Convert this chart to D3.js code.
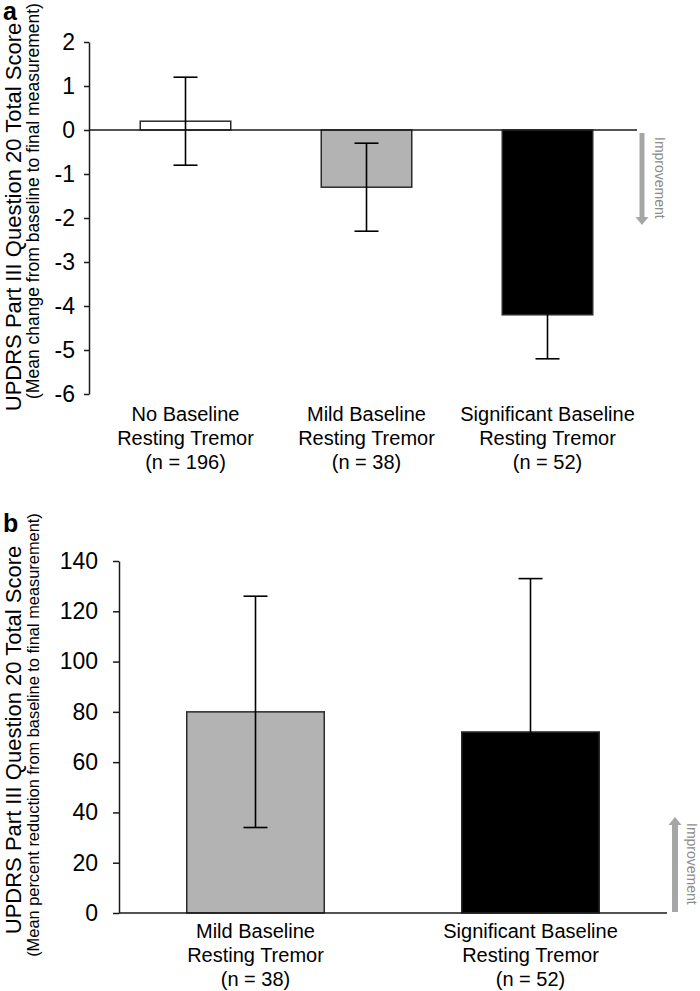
<!DOCTYPE HTML>
<html>
  <head>
    <meta charset="utf-8">
    <style>
	body { margin: 0; background: #fff; }
	svg text { font-family: "Liberation Sans", Arial, sans-serif; fill: #000; }
	</style>
  </head>
  <body>

	<script type="text/javascript" src="https://cdn.jsdelivr.net/npm/d3@7/dist/d3.min.js"></script>

    <script>

		// *** DATA ***

		// Panel a: mean change from baseline
		var catsA = ['No Baseline|Resting Tremor|(n = 196)', 'Mild Baseline|Resting Tremor|(n = 38)', 'Significant Baseline|Resting Tremor|(n = 52)'];
		var meanA = [0.2, -1.3, -4.2];
		var errA = [1.0, 1.0, 1.0];
		var ticksA = [-6, -5, -4, -3, -2, -1, 0, 1, 2];

		// Panel b: mean percent reduction
		var catsB = ['Mild Baseline|Resting Tremor|(n = 38)', 'Significant Baseline|Resting Tremor|(n = 52)'];
		var meanB = [80, 72];
		var errB = [46, 61];
		var ticksB = [0, 20, 40, 60, 80, 100, 120, 140];

		var fillsA = ['#ffffff', '#b3b3b3', '#000000'];
		var fillsB = ['#b3b3b3', '#000000'];

		var svg = d3.select("body").append("svg")
			.attr("width", 700)
			.attr("height", 991);

		// *** FUNCTIONS ***

		// FUNCTION: Draw one bar panel
		function drawPanel(cfg){

			var g = svg.append("g");

			var x = d3.scaleBand()
				.domain(cfg.cats)
				.range(cfg.xRange)
				.paddingInner(0.5)
				.paddingOuter(0.25);

			var y = d3.scaleLinear()
				.domain(cfg.yDomain)
				.range(cfg.yRange);

			// bars
			g.selectAll("rect.bar").data(cfg.means)
			.enter()
			.append("rect")
				.attr("class", "bar")
				.attr("x", function(d, i){ return x(cfg.cats[i]); })
				.attr("y", function(d){ return Math.min(y(0), y(d)); })
				.attr("width", x.bandwidth())
				.attr("height", function(d){ return Math.abs(y(d) - y(0)); })
				.style("fill", function(d, i){ return cfg.fills[i]; })
				.style("stroke", "#2a2a2a")
				.style("stroke-width", 1.5);

			// error bars
			var capW = 24;
			var eb = g.selectAll("g.err").data(cfg.means)
			.enter()
			.append("g")
				.attr("class", "err")
				.attr("transform", function(d, i){ return "translate(" + (x(cfg.cats[i]) + x.bandwidth()/2) + ",0)"; })
				.style("stroke", "#000")
				.style("stroke-width", 1.6);
			eb.append("line")
				.attr("y1", function(d, i){ return y(d + cfg.errs[i]); })
				.attr("y2", function(d, i){ return y(d - cfg.errs[i]); });
			eb.append("line")
				.attr("x1", -capW/2).attr("x2", capW/2)
				.attr("y1", function(d, i){ return y(d + cfg.errs[i]); })
				.attr("y2", function(d, i){ return y(d + cfg.errs[i]); });
			eb.append("line")
				.attr("x1", -capW/2).attr("x2", capW/2)
				.attr("y1", function(d, i){ return y(d - cfg.errs[i]); })
				.attr("y2", function(d, i){ return y(d - cfg.errs[i]); });

			// baseline (x axis)
			g.append("line")
				.attr("x1", cfg.axisX).attr("x2", cfg.xRange[1] - 1)
				.attr("y1", y(0)).attr("y2", y(0))
				.style("stroke", "#1a1a1a")
				.style("stroke-width", 1.5);

			// y axis
			var ax = g.append("g")
				.attr("transform", "translate(" + cfg.axisX + ",0)")
				.call(d3.axisLeft(y).tickValues(cfg.ticks).tickSize(cfg.tickSize).tickSizeOuter(0)
					.tickPadding(cfg.tickPad).tickFormat(function(d){ return String(d); }));
			ax.selectAll("path, line").style("stroke", "#1a1a1a").style("stroke-width", 1.5);
			ax.selectAll("text")
				.style("font-family", '"Liberation Sans", Arial, sans-serif')
				.style("font-size", "23px")
				.style("fill", "#000");

			// category labels
			var lab = g.selectAll("text.cat").data(cfg.cats)
			.enter()
			.append("text")
				.attr("class", "cat")
				.attr("text-anchor", "middle")
				.style("font-size", "20px");
			lab.each(function(d){
				var t = d3.select(this);
				var cx = x(d) + x.bandwidth()/2;
				d.split('|').forEach(function(s, k){
					t.append("tspan")
						.attr("x", cx)
						.attr("y", cfg.labelY + k*24)
						.text(s);
				});
			});

			// axis titles
			g.append("text")
				.attr("transform", "translate(21," + cfg.titleY + ") rotate(-90)")
				.attr("text-anchor", "middle")
				.style("font-size", "22px")
				.text("UPDRS Part III Question 20 Total Score");
			g.append("text")
				.attr("transform", "translate(38.5," + cfg.subY + ") rotate(-90)")
				.attr("text-anchor", "middle")
				.style("font-size", cfg.subSize)
				.text(cfg.subtitle);

			// panel letter
			g.append("text")
				.attr("x", 3).attr("y", cfg.letterY)
				.style("font-size", "25px")
				.style("font-weight", "bold")
				.text(cfg.letter);

			// improvement arrow
			var a = cfg.arrow, dir = a.y2 > a.y1 ? 1 : -1, headL = 8, headW = 6.5;
			g.append("line")
				.attr("x1", a.x).attr("x2", a.x)
				.attr("y1", a.y1).attr("y2", a.y2 - dir*headL)
				.style("stroke", "#a6a6a6")
				.style("stroke-width", a.w);
			g.append("path")
				.attr("d", "M" + (a.x - headW) + "," + (a.y2 - dir*headL) + "L" + (a.x + headW) + "," + (a.y2 - dir*headL) + "L" + a.x + "," + a.y2 + "Z")
				.style("fill", "#a6a6a6");
			g.append("text")
				.attr("transform", "translate(" + a.tx + "," + a.ty + ") rotate(90)")
				.style("font-size", "14px")
				.style("fill", "#8c8c8c")
				.text("Improvement");

			return g;
		}

		// *** CODE ***

		drawPanel({
			cats: catsA, means: meanA, errs: errA, fills: fillsA, ticks: ticksA,
			xRange: [95, 638], yDomain: [-6, 2], yRange: [394, 42],
			axisX: 89, tickSize: 5, tickPad: 9,
			labelY: 421, titleY: 217, subY: 201, subSize: "17.5px",
			subtitle: "(Mean change from baseline to final measurement)",
			letter: "a", letterY: 20,
			arrow: {x: 642, y1: 133, y2: 225, w: 5, tx: 655, ty: 137}
		});

		drawPanel({
			cats: catsB, means: meanB, errs: errB, fills: fillsB, ticks: ticksB,
			xRange: [118, 668], yDomain: [0, 140], yRange: [913, 561],
			axisX: 119, tickSize: 6, tickPad: 15,
			labelY: 938, titleY: 740, subY: 735, subSize: "16.4px",
			subtitle: "(Mean percent reduction from baseline to final measurement)",
			letter: "b", letterY: 532,
			arrow: {x: 675, y1: 912, y2: 817, w: 6, tx: 687, ty: 823}
		});

	</script>
  </body>
</html>
